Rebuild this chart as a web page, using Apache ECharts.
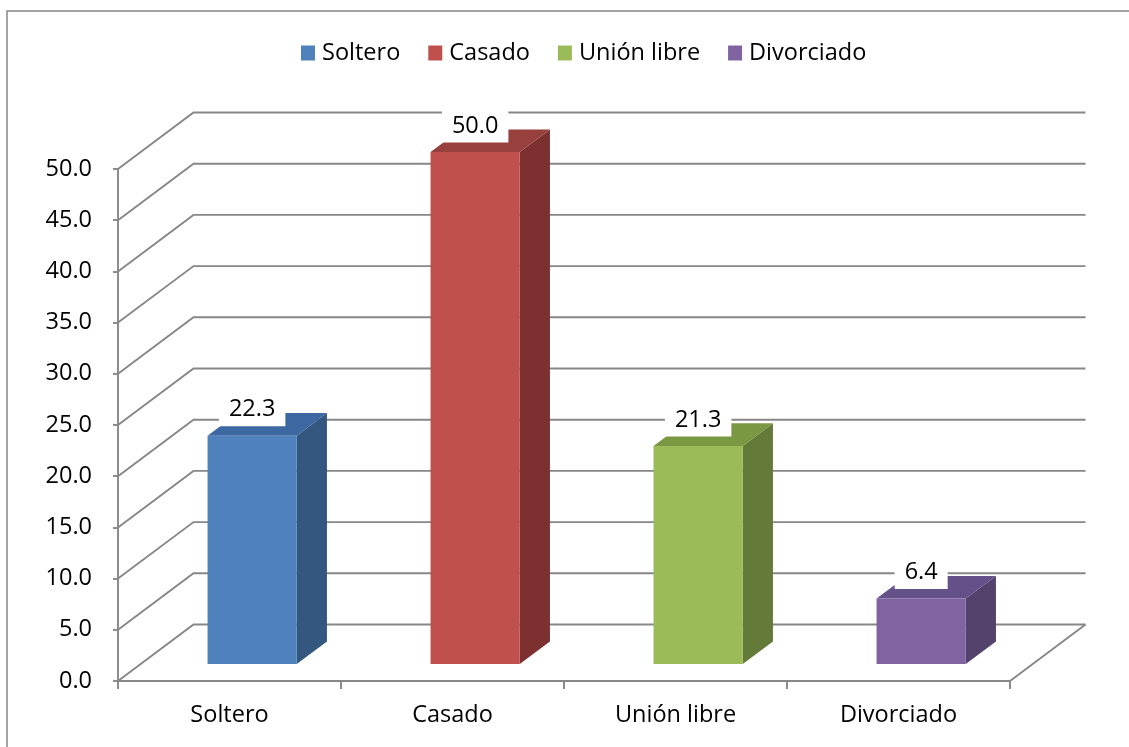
<!DOCTYPE html>
<html>
<head>
<meta charset="utf-8">
<script src="https://cdn.jsdelivr.net/npm/echarts@6/dist/echarts.min.js"></script>
<style>
html,body{margin:0;padding:0;background:#fff;}
#chart{width:1129px;height:747px;}
</style>
</head>
<body>
<div id="chart"></div>
<script>
// ---- data ----
const categories = ['Soltero', 'Casado', 'Unión libre', 'Divorciado'];
const values = [22.3, 50.0, 21.3, 6.4];
const yMin = 0, yMax = 50, yInterval = 5;

// ---- styles ----
const FONT = '"Open Sans", "Noto Sans", sans-serif';
const FS = 23.5;
const frontColors = ['#4F81BD', '#C0504D', '#9BBB59', '#8064A2'];
const topColors = ['#3D68A2', '#97403D', '#7A9741', '#65518A'];
const sideColors = ['#34577F', '#7C3130', '#647A39', '#52426C'];
const GRID_COLOR = '#878787';
const GRID_W = 1.9;
const DX = 75.5, DY = -56.5;      // depth vector of the 3D box
const F0 = 0.3, FD = 0.4;          // bar depth start and depth size (fractions)
const BAR_W = 0.4;                 // bar width fraction of band

const gridValues = [];
for (let v = yMin; v <= yMax + 1e-9; v += yInterval) gridValues.push(v);

const chart = echarts.init(document.getElementById('chart'), null, {renderer: 'canvas'});

const gridSeries = {
  type: 'custom',
  name: '__grid',
  silent: true,
  z: 1,
  data: gridValues.map(v => [0, v]),
  renderItem: function (params, api) {
    const cs = params.coordSys;
    const v = api.value(1);
    const y = api.coord([0, v])[1];
    const x0 = cs.x, x1 = cs.x + cs.width;
    const children = [{
      type: 'polyline',
      shape: {points: [[x0, y], [x0 + DX, y + DY], [x1 + DX, y + DY]]},
      style: {stroke: GRID_COLOR, lineWidth: GRID_W, fill: null}
    }];
    if (v === yMin) {
      children.push({
        type: 'line',
        shape: {x1: x1, y1: y, x2: x1 + DX, y2: y + DY},
        style: {stroke: GRID_COLOR, lineWidth: GRID_W}
      });
    }
    return {type: 'group', children: children};
  }
};

const barSeries = categories.map((name, i) => ({
  type: 'custom',
  name: name,
  z: 3,
  itemStyle: {color: frontColors[i]},
  encode: {x: 0, y: 1},
  data: [[i, values[i]]],
  renderItem: function (params, api) {
    const idx = api.value(0);
    const val = api.value(1);
    const top = api.coord([idx, val]);
    const base = api.coord([idx, 0]);
    const band = api.size([1, 0])[0];
    const bw = band * BAR_W;
    const cx = top[0] + DX * F0;
    const xl = cx - bw / 2, xr = cx + bw / 2;
    const yt = top[1] + DY * F0, yb = base[1] + DY * F0;
    const ddx = DX * FD, ddy = DY * FD;
    return {
      type: 'group',
      children: [
        {type: 'polygon', shape: {points: [[xr, yt], [xr + ddx, yt + ddy], [xr + ddx, yb + ddy], [xr, yb]]},
          style: {fill: sideColors[i]}},
        {type: 'polygon', shape: {points: [[xl, yt], [xr, yt], [xr + ddx, yt + ddy], [xl + ddx, yt + ddy]]},
          style: {fill: topColors[i]}},
        {type: 'rect', shape: {x: xl, y: yt, width: bw, height: yb - yt},
          style: {fill: frontColors[i]}},
        {type: 'text', z2: 10, x: cx, y: yt - 26,
          style: {text: val.toFixed(1), align: 'center', verticalAlign: 'middle',
            fontFamily: FONT, fontSize: FS, fill: '#000',
            backgroundColor: '#fff', padding: [5, 10, 4, 10]}}
      ]
    };
  }
}));

const option = {
  animation: false,
  backgroundColor: '#fff',
  textStyle: {fontFamily: FONT},
  graphic: [{
    type: 'rect', silent: true, z: 0,
    shape: {x: 7, y: 11, width: 1200, height: 800},
    style: {fill: null, stroke: '#868686', lineWidth: 1.5}
  }],
  legend: {
    data: categories,
    left: 296, top: 36,
    icon: 'rect', itemWidth: 14, itemHeight: 15, itemGap: 28,
    textStyle: {fontFamily: FONT, fontSize: FS, color: '#000', padding: [0, 0, 0, 2]}
  },
  grid: {left: 118, top: 169, width: 892, height: 512, containLabel: false},
  xAxis: {
    type: 'category',
    data: categories,
    boundaryGap: true,
    axisLine: {show: true, lineStyle: {color: GRID_COLOR, width: GRID_W}},
    axisTick: {show: true, length: 8, lineStyle: {color: GRID_COLOR, width: GRID_W}},
    axisLabel: {color: '#000', fontFamily: FONT, fontSize: FS, margin: 22},
    splitLine: {show: false}
  },
  yAxis: {
    type: 'value',
    min: yMin, max: yMax, interval: yInterval,
    axisLine: {show: true, lineStyle: {color: GRID_COLOR, width: GRID_W}},
    axisTick: {show: true, length: 5, lineStyle: {color: GRID_COLOR, width: GRID_W}},
    axisLabel: {color: '#000', fontFamily: FONT, fontSize: FS, margin: 26,
      formatter: v => v.toFixed(1)},
    splitLine: {show: false}
  },
  series: [gridSeries].concat(barSeries)
};
chart.setOption(option);
</script>
</body>
</html>
